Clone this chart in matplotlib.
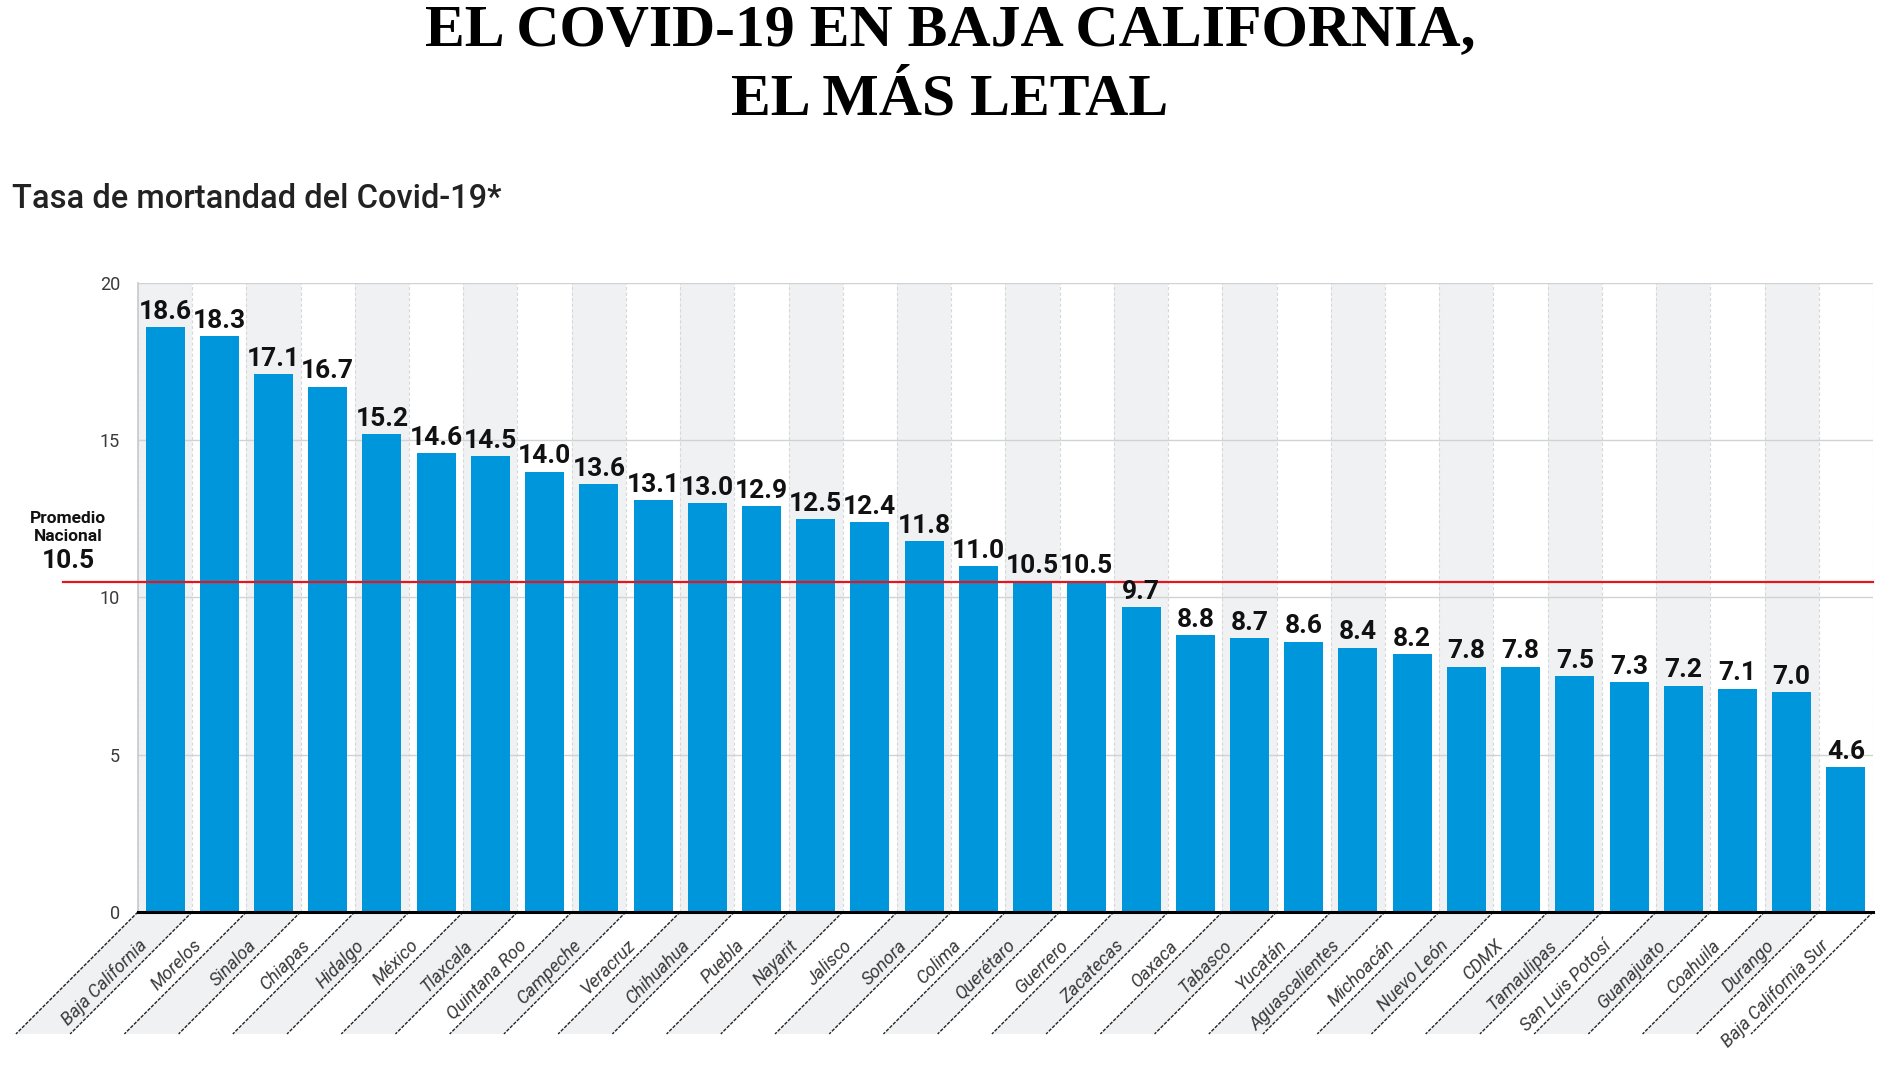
import matplotlib
matplotlib.use("Agg")
import matplotlib.pyplot as plt
import matplotlib.transforms as mtransforms
from matplotlib.patches import Polygon
import numpy as np

# datos
estados = ["Baja California", "Morelos", "Sinaloa", "Chiapas", "Hidalgo", "México",
           "Tlaxcala", "Quintana Roo", "Campeche", "Veracruz", "Chihuahua", "Puebla",
           "Nayarit", "Jalisco", "Sonora", "Colima", "Querétaro", "Guerrero",
           "Zacatecas", "Oaxaca", "Tabasco", "Yucatán", "Aguascalientes", "Michoacán",
           "Nuevo León", "CDMX", "Tamaulipas", "San Luis Potosí", "Guanajuato",
           "Coahuila", "Durango", "Baja California Sur"]
tasa = [18.6, 18.3, 17.1, 16.7, 15.2, 14.6, 14.5, 14.0, 13.6, 13.1, 13.0, 12.9,
        12.5, 12.4, 11.8, 11.0, 10.5, 10.5, 9.7, 8.8, 8.7, 8.6, 8.4, 8.2,
        7.8, 7.8, 7.5, 7.3, 7.2, 7.1, 7.0, 4.6]
promedio = 10.5
yticks = [0, 5, 10, 15, 20]

titulo1 = "EL COVID-19 EN BAJA CALIFORNIA,"
titulo2 = "EL MÁS LETAL"
subtitulo = "Tasa de mortandad del Covid-19*"

fuente = ["Roboto", "DejaVu Sans"]
serif = ["Liberation Serif", "DejaVu Serif"]
azul = "#0096db"
gris_banda = "#f0f1f3"

fig = plt.figure(figsize=(19, 10.68), dpi=100)
fig.patch.set_facecolor("white")
ax = fig.add_axes([0.0726, 0.1461, 0.9132, 0.5889])

n = len(estados)
x = np.arange(n)

# bandas alternas
for i in x:
    if i % 2 == 0:
        ax.axvspan(i - 0.5, i + 0.5, color=gris_banda, zorder=0, lw=0)
for b in np.arange(n + 1) - 0.5:
    ax.axvline(b, color="#d6d8da", lw=0.8, ls=(0, (3, 2)), zorder=1)
for t in yticks[1:]:
    ax.axhline(t, color="#d0d2d4", lw=1.0, zorder=1)

ax.bar(x, tasa, width=0.72, color=azul, zorder=2)

for xi, v in zip(x, tasa):
    ax.annotate(f"{v:.1f}", (xi, v), xytext=(0, 6), textcoords="offset points",
                ha="center", va="baseline", fontsize=19, fontweight="bold",
                family=fuente, color="#111111", zorder=4)

# promedio nacional
ax.axhline(promedio, xmin=-0.043, xmax=1.0, color="#e3161d", lw=1.6,
           zorder=3, clip_on=False)
tr_lab = mtransforms.blended_transform_factory(fig.transFigure, ax.transData)
ax.text(0.036, 12.5, "Promedio", transform=tr_lab, ha="center", va="center",
        fontsize=12.5, fontweight="bold", family=fuente, color="#111111")
ax.text(0.036, 11.95, "Nacional", transform=tr_lab, ha="center", va="center",
        fontsize=12.5, fontweight="bold", family=fuente, color="#111111")
ax.text(0.036, 11.15, f"{promedio:.1f}", transform=tr_lab, ha="center",
        va="center", fontsize=19, fontweight="bold", family=fuente,
        color="#111111")

ax.set_xlim(-0.5, n - 0.5)
ax.set_ylim(0, 20)
ax.set_yticks(yticks)
ax.set_yticklabels([str(t) for t in yticks], fontsize=13, family=fuente,
                   color="#3a3a3a")
ax.tick_params(axis="y", length=0, pad=13)
ax.set_xticks([])
for s in ["top", "right"]:
    ax.spines[s].set_visible(False)
ax.spines["left"].set_color("#c8cacc")
ax.spines["left"].set_linewidth(1.2)
ax.spines["bottom"].set_color("black")
ax.spines["bottom"].set_linewidth(2.2)
ax.spines["bottom"].set_zorder(5)

# zona de etiquetas inclinadas (45 grados)
pos = ax.get_position()
ancho_px = pos.width * fig.get_figwidth() * fig.dpi
alto_px = pos.height * fig.get_figheight() * fig.dpi
px_unidad = ancho_px / n
prof_px = 122
d = prof_px / alto_px
s = prof_px / px_unidad
tr = mtransforms.blended_transform_factory(ax.transData, ax.transAxes)
for i in x:
    if i % 2 == 0:
        poly = Polygon([(i - 0.5, 0), (i + 0.5, 0), (i + 0.5 - s, -d), (i - 0.5 - s, -d)],
                       closed=True, transform=tr, facecolor=gris_banda,
                       edgecolor="none", clip_on=False, zorder=0)
        ax.add_patch(poly)
for b in np.arange(n + 1) - 0.5:
    ax.plot([b, b - s], [0, -d], transform=tr, color="#222222", lw=1.0,
            ls=(0, (2.5, 1.0)), clip_on=False, zorder=3)
for i, nombre in zip(x, estados):
    ax.text(i - 0.37, -31 / alto_px, nombre, transform=tr, rotation=45,
            rotation_mode="anchor", ha="right", va="center", fontsize=13,
            style="italic", family=fuente, color="#3a3a3a")

# titulos
fig.text(0.5, 0.958, titulo1, ha="center", va="baseline", fontsize=43,
         fontweight="bold", family=serif, color="black")
fig.text(0.5, 0.893, titulo2, ha="center", va="baseline", fontsize=43,
         fontweight="bold", family=serif, color="black")
fig.text(0.0063, 1 - 208 / 1068, subtitulo, ha="left", va="baseline",
         fontsize=23.5, fontweight="medium", family=fuente, color="#222222")

fig.savefig("out.png", dpi=100)
